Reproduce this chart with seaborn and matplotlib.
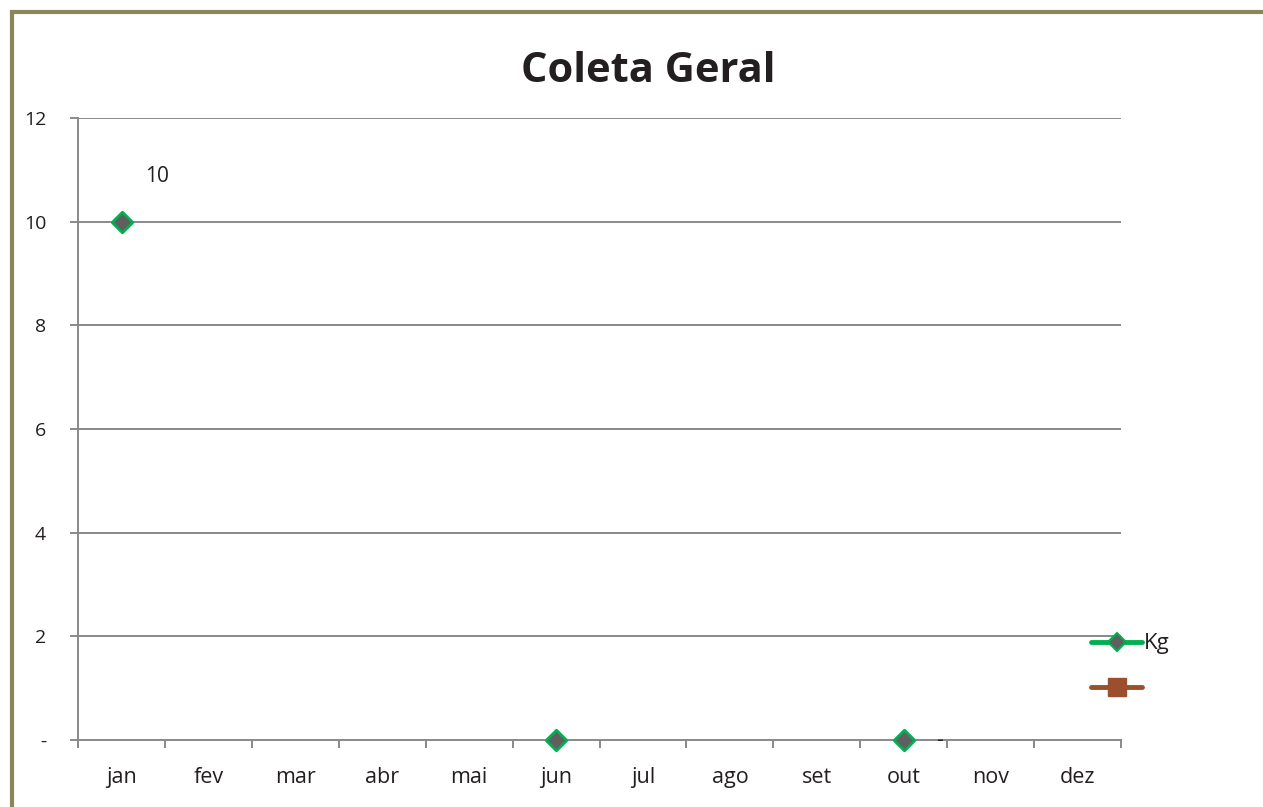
import numpy as np
import pandas as pd
import matplotlib.pyplot as plt
import seaborn as sns
from matplotlib.lines import Line2D
from matplotlib.patches import Rectangle

meses = ['jan', 'fev', 'mar', 'abr', 'mai', 'jun', 'jul', 'ago', 'set', 'out', 'nov', 'dez']
kg = [10, np.nan, np.nan, np.nan, np.nan, 0, np.nan, np.nan, np.nan, 0, np.nan, np.nan]
y_ticks = [0, 2, 4, 6, 8, 10, 12]
y_labels = ['-', '2', '4', '6', '8', '10', '12']

sns.set_style('white')
plt.rcParams['font.family'] = ['Open Sans', 'DejaVu Sans']

df = pd.DataFrame({'mes': meses, 'pos': range(len(meses)), 'Kg': kg}).dropna()

fig = plt.figure(figsize=(12.63, 8.07), dpi=100)
ax = fig.add_axes([0.0618, 0.0830, 0.8258, 0.7708])

grid_c = '#898989'
for yv in y_ticks[1:]:
    ax.axhline(yv, color=grid_c, lw=1.4, zorder=1)

sns.scatterplot(data=df, x='pos', y='Kg', marker='D', s=110, color='#5f5f5f',
                edgecolor='#00B050', linewidth=2, ax=ax, zorder=5, legend=False,
                clip_on=False)

# rotulos dos dados
ax.annotate('10', (0, 10), xytext=(24, 45), textcoords='offset pixels',
            fontsize=15, color='#231F20', ha='left', va='center')
ax.annotate('-', (9, 0), xytext=(32, 0), textcoords='offset pixels',
            fontsize=15, color='#231F20', ha='left', va='center')

ax.set_xlim(-0.5, 11.5)
ax.set_ylim(0, 12)
ax.set_xticks(range(12))
ax.set_xticklabels(meses)
ax.set_xticks(np.arange(-0.5, 12, 1), minor=True)
ax.tick_params(axis='x', which='major', bottom=False, pad=16, labelsize=15.5,
               labelcolor='#231F20')
ax.tick_params(axis='x', which='minor', bottom=True, length=6, width=1.4, color=grid_c,
               direction='out')
ax.set_yticks(y_ticks)
ax.set_yticklabels(y_labels)
ax.tick_params(axis='y', left=True, length=6, width=1.4, color=grid_c, direction='out',
               pad=17, labelsize=14, labelcolor='#231F20')
ax.set_xlabel('')
ax.set_ylabel('')

for s in ['top', 'right']:
    ax.spines[s].set_visible(False)
for s in ['left', 'bottom']:
    ax.spines[s].set_color(grid_c)
    ax.spines[s].set_linewidth(1.4)

ax.set_title('Coleta Geral', fontsize=30, fontweight='bold', color='#231F20', pad=26,
             x=0.547)

handles = [
    Line2D([], [], color='#00B050', lw=3.5, marker='D', markersize=9,
           markerfacecolor='#5f5f5f', markeredgecolor='#00B050', markeredgewidth=1.5,
           solid_capstyle='round'),
    Line2D([], [], color='#9B4F2C', lw=3.5, marker='s', markersize=13,
           markerfacecolor='#9B4F2C', markeredgecolor='#9B4F2C', solid_capstyle='round'),
]
fig.legend(handles, ['Kg', ' '], loc='upper left', bbox_to_anchor=(0.848, 0.240),
           frameon=False, fontsize=16, handlelength=2.3, handletextpad=0.1,
           labelspacing=1.1, labelcolor='#231F20')

fig.patches.append(Rectangle((12 / 1263, -0.1), 1.2, 1 - 12 / 807 + 0.1,
                             transform=fig.transFigure, fill=False,
                             edgecolor='#8A875C', lw=3, zorder=10))

fig.savefig('out.png', dpi=100)
